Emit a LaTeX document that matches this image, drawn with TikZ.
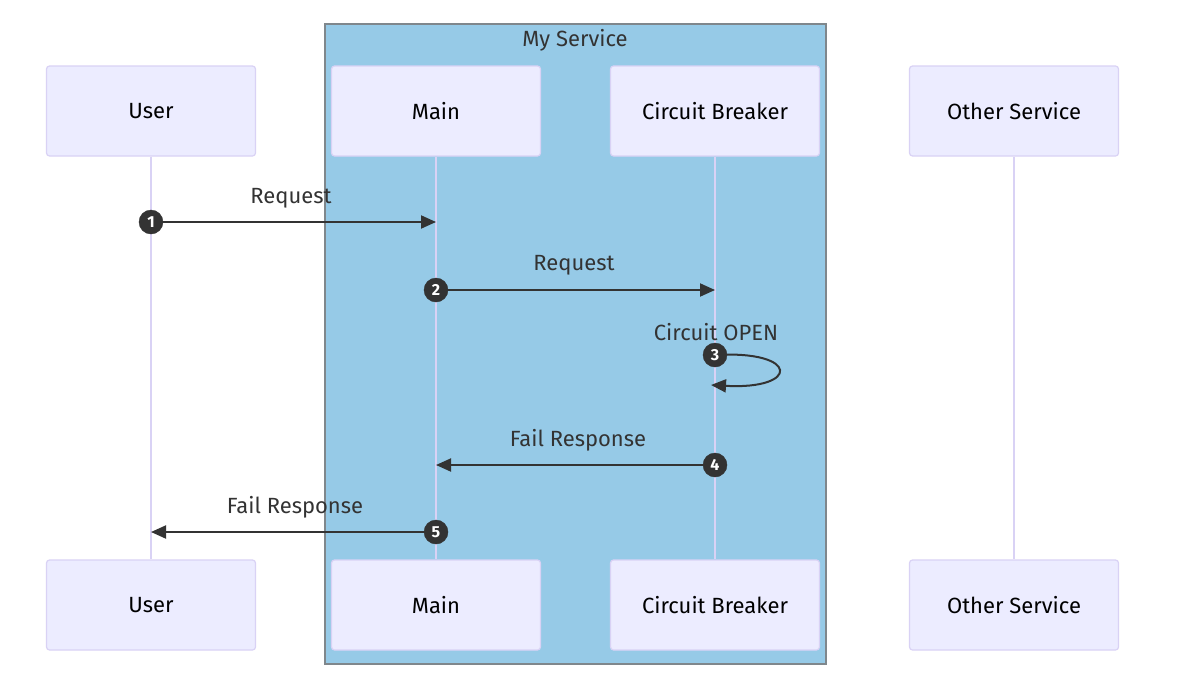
\documentclass[tikz,border=0pt]{standalone}
\usepackage{fontspec}
\setmainfont{Fira Sans}
\usetikzlibrary{arrows.meta}
\definecolor{actfill}{HTML}{ECECFF}
\definecolor{actline}{HTML}{D9D2F5}
\definecolor{grpfill}{HTML}{96CAE7}
\definecolor{grpline}{HTML}{7F878C}
\definecolor{ink}{HTML}{333333}
\tikzset{
  actor/.style={draw=actline, line width=1.2pt, fill=actfill, rounded corners=3pt,
    minimum width=209pt, minimum height=90pt, inner sep=0pt, font=\fontsize{22}{26}\selectfont, text=black},
  life/.style={draw=actline, line width=2.2pt},
  msg/.style={draw=ink, line width=2pt, -{Triangle[length=15pt,width=13pt]}},
  msglabel/.style={font=\fontsize{22}{26}\selectfont, text=ink, inner sep=0pt},
  num/.style={circle, fill=ink, draw=ink, minimum size=24pt, inner sep=0pt, text=white,
    font=\fontsize{16}{16}\selectfont\bfseries}
}
\begin{document}
\begin{tikzpicture}[x=1pt,y=-1pt]
\useasboundingbox (0,0) rectangle (1178,696);
\fill[white] (0,0) rectangle (1178,696);
% group box
\draw[draw=grpline, line width=1.5pt, fill=grpfill] (325,24) rectangle (826,664);
\node[msglabel] (grp) at (575,40) {My Service};
% actors
\node[actor] (ut) at (151,111) {User};
\node[actor] (mt) at (436,111) {Main};
\node[actor] (ct) at (715,111) {Circuit Breaker};
\node[actor] (ot) at (1014,111) {Other Service};
\node[actor] (ub) at (151,605) {User};
\node[actor] (mb) at (436,605) {Main};
\node[actor] (cb) at (715,605) {Circuit Breaker};
\node[actor] (ob) at (1014,605) {Other Service};
% lifelines
\draw[life] (ut.south) -- (ub.north);
\draw[life] (mt.south) -- (mb.north);
\draw[life] (ct.south) -- (cb.north);
\draw[life] (ot.south) -- (ob.north);
% message coordinates
\coordinate (m1a) at (151,222); \coordinate (m1b) at (436,222);
\coordinate (m2a) at (436,290); \coordinate (m2b) at (715,290);
\coordinate (m3a) at (715,355); \coordinate (m3b) at (711,385);
\coordinate (m4a) at (715,465); \coordinate (m4b) at (436,465);
\coordinate (m5a) at (436,532); \coordinate (m5b) at (151,532);
% messages
\draw[msg] (m1a) -- (m1b);
\node[msglabel] (l1) at (291,198) {Request};
\draw[msg] (m2a) -- (m2b);
\node[msglabel] (l2) at (574,265) {Request};
\draw[msg] (m3a) .. controls (800,350) and (800,390) .. (m3b);
\node[msglabel] (l3) at (716,332) {Circuit OPEN};
\draw[msg] (m4a) -- (m4b);
\node[msglabel] (l4) at (578,440) {Fail Response};
\draw[msg] (m5a) -- (m5b);
\node[msglabel] (l5) at (295,507) {Fail Response};
% numbers
\node[num] (n1) at (m1a) {1};
\node[num] (n2) at (m2a) {2};
\node[num] (n3) at (m3a) {3};
\node[num] (n4) at (m4a) {4};
\node[num] (n5) at (m5a) {5};
\end{tikzpicture}
\end{document}
